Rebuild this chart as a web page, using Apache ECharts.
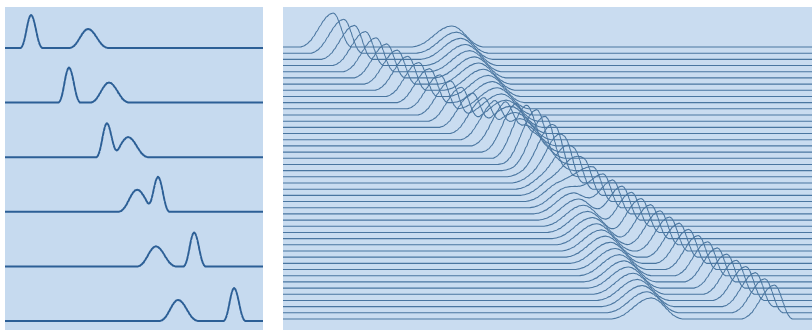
<!DOCTYPE html>
<html>
<head>
<meta charset="utf-8">
<style>
  html, body { margin: 0; padding: 0; background: #fff; }
  #chart { width: 812px; height: 333px; }
</style>
<script src="https://cdn.jsdelivr.net/npm/echarts@6/dist/echarts.min.js"></script>
</head>
<body>
<div id="chart"></div>
<script>
// 峰形：u 为相对半宽，-1..1
const peakU = [-1, -0.9, -0.8, -0.7, -0.6, -0.5, -0.4, -0.3, -0.2, -0.1, 0,
  0.1, 0.2, 0.3, 0.4, 0.5, 0.6, 0.7, 0.8, 0.9, 1]
const peakH = [0, 0.03, 0.09, 0.18, 0.31, 0.46, 0.62, 0.77, 0.89, 0.97, 1,
  0.97, 0.89, 0.77, 0.62, 0.46, 0.31, 0.18, 0.09, 0.03, 0]

// 左图：6 条谱线，从上到下，x 为 0..100
const leftPosA = [10.1, 24.8, 39.5, 59.3, 73.3, 88.8]
const leftHgtA = [0.97, 1.03, 1.0, 1.03, 1.0, 0.97]
const leftPosB = [32.2, 40.3, 47.7, 51.2, 58.5, 67.1]
const leftHgtB = [0.56, 0.59, 0.59, 0.65, 0.59, 0.62]
const leftWidA = [4.0, 4.3]
const leftWidB = [7.0, 7.6]

// 右图：45 条谱线，从上到下
const rightPosA = [9.5, 11.5, 13.5, 15.6, 17.6, 19.6, 21.6, 23.6, 25.7, 27.7,
  29.7, 31.7, 33.7, 35.8, 37.8, 39.8, 41.8, 43.8, 45.9, 47.9,
  49.7, 51.5, 53.3, 55.1, 56.9, 58.7, 60.5, 62.3, 64.1, 65.9,
  67.7, 69.5, 71.3, 73.1, 74.9, 76.7, 78.5, 80.3, 82.1, 83.9,
  85.7, 87.5, 89.3, 91.1, 92.9]
const rightPosB = [31.9, 32.8, 33.6, 34.5, 35.3, 36.2, 37.0, 37.9, 38.8, 39.6,
  40.5, 41.3, 42.2, 43.0, 43.9, 44.8, 45.6, 46.5, 47.3, 48.2,
  49.0, 49.9, 50.8, 51.6, 52.5, 53.3, 54.2, 55.0, 55.9, 56.8,
  57.6, 58.5, 59.3, 60.2, 61.0, 61.9, 62.8, 63.6, 64.5, 65.3,
  66.2, 67.0, 67.9, 68.8, 69.6]
const rightHgtA = 1
const rightHgtB = 0.62
const rightWidA = [6.2, 3.4]
const rightWidB = [7.6, 6.0]

const leftGap = 1.606
const rightGap = 0.1818

// 某个峰在 x 处的高度
const shapeAt = (p, x) => {
  const w = x < p.pos ? p.wid[0] : p.wid[1]
  const u = (x - p.pos) / w
  if (u <= -1 || u >= 1) return 0
  for (let k = 1; k < peakU.length; k++) {
    if (u <= peakU[k]) {
      const t = (u - peakU[k - 1]) / (peakU[k] - peakU[k - 1])
      return p.hgt * (peakH[k - 1] + t * (peakH[k] - peakH[k - 1]))
    }
  }
  return 0
}

// 一条谱线的点：基线偏移 + 各峰
const trace = (peaks, offset) => {
  let xs = [0, 100]
  peaks.forEach(p => {
    peakU.forEach(u => xs.push(p.pos + u * (u < 0 ? p.wid[0] : p.wid[1])))
  })
  xs = xs.filter(x => x >= 0 && x <= 100).sort((a, b) => a - b)
  const out = []
  xs.forEach(x => {
    if (out.length && Math.abs(out[out.length - 1][0] - x) < 0.12) return
    let y = offset
    peaks.forEach(p => { y += shapeAt(p, x) })
    out.push([x, y])
  })
  return out
}

const series = []
leftPosA.forEach((_, k) => {
  series.push({
    type: 'line',
    xAxisIndex: 0,
    yAxisIndex: 0,
    showSymbol: false,
    silent: true,
    smooth: 0.3,
    smoothMonotone: 'x',
    lineStyle: { color: '#2c5f96', width: 2 },
    data: trace([
      { pos: leftPosA[k], hgt: leftHgtA[k], wid: leftWidA },
      { pos: leftPosB[k], hgt: leftHgtB[k], wid: leftWidB }
    ], (leftPosA.length - 1 - k) * leftGap)
  })
})
rightPosA.forEach((_, i) => {
  series.push({
    type: 'line',
    xAxisIndex: 1,
    yAxisIndex: 1,
    showSymbol: false,
    silent: true,
    smooth: 0.3,
    smoothMonotone: 'x',
    lineStyle: { color: '#4a76a0', width: 1.1 },
    data: trace([
      { pos: rightPosA[i], hgt: rightHgtA, wid: rightWidA },
      { pos: rightPosB[i], hgt: rightHgtB, wid: rightWidB }
    ], (rightPosA.length - 1 - i) * rightGap)
  })
})

const myChart = echarts.init(document.getElementById('chart'))
const option = {
  animation: false,
  backgroundColor: '#ffffff',
  grid: [
    { left: 5, top: 7, width: 258, height: 323, show: true, backgroundColor: '#c6daef', borderWidth: 0 },
    { left: 283, top: 7, width: 529, height: 323, show: true, backgroundColor: '#c9dcf0', borderWidth: 0 }
  ],
  xAxis: [
    { type: 'value', gridIndex: 0, min: 0, max: 100, show: false },
    { type: 'value', gridIndex: 1, min: 0, max: 100, show: false }
  ],
  yAxis: [
    { type: 'value', gridIndex: 0, min: -0.265, max: 9.235, show: false },
    { type: 'value', gridIndex: 1, min: -0.324, max: 9.176, show: false }
  ],
  series
}
myChart.setOption(option)
window.addEventListener('resize', () => {
  myChart.resize()
})
</script>
</body>
</html>
